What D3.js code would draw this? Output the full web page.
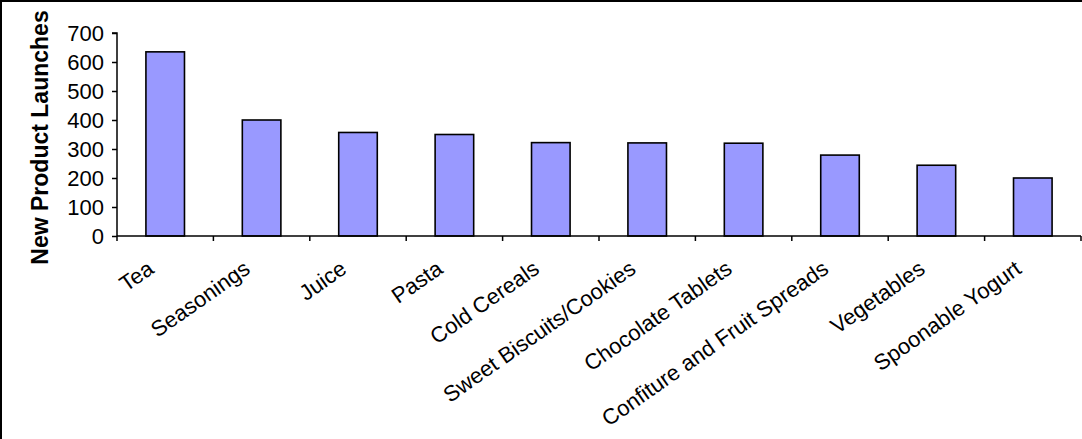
<!DOCTYPE html>
<html>
<head>
<meta charset="utf-8">
<script src="https://cdn.jsdelivr.net/npm/d3@7"></script>
<style>
  html, body { margin: 0; padding: 0; background: #fff; }
  svg { display: block; font-family: "Liberation Sans", Arial, sans-serif; }
</style>
</head>
<body>
<svg id="chart" width="1082" height="439"></svg>
<script>
// Product categories and number of new launches per category
const categories = ["Tea", "Seasonings", "Juice", "Pasta", "Cold Cereals",
  "Sweet Biscuits/Cookies", "Chocolate Tablets", "Confiture and Fruit Spreads",
  "Vegetables", "Spoonable Yogurt"];
const launches = [635, 400, 357, 350, 322, 321, 320, 279, 244, 200];
const yTicks = [0, 100, 200, 300, 400, 500, 600, 700];
const yTitle = "New Product Launches";

(function drawChart() {
  const svg = d3.select("#chart");

  // outer frame (extends past the visible area on right and bottom)
  svg.append("rect")
    .attr("x", 1).attr("y", 1)
    .attr("width", 1200).attr("height", 600)
    .attr("fill", "none").attr("stroke", "#000").attr("stroke-width", 2);

  const plotLeft = 117, plotRight = 1081, plotTop = 33, plotBottom = 236;

  const x = d3.scaleBand().domain(categories).range([plotLeft, plotRight]).paddingInner(0).paddingOuter(0);
  const y = d3.scaleLinear().domain([0, 700]).range([plotBottom, plotTop]);

  // bars: width is 40% of the category slot
  const barW = x.bandwidth() * 0.4;
  svg.append("g").selectAll("rect")
    .data(categories)
    .join("rect")
    .attr("x", (d) => x(d) + (x.bandwidth() - barW) / 2)
    .attr("y", (d, i) => y(launches[i]))
    .attr("width", barW)
    .attr("height", (d, i) => y(0) - y(launches[i]))
    .attr("fill", "#9999FF")
    .attr("stroke", "#000")
    .attr("stroke-width", 1.6);

  // y axis
  const yAxis = d3.axisLeft(y).tickValues(yTicks).tickSize(5).tickPadding(8);
  const gy = svg.append("g").attr("transform", `translate(${plotLeft},0)`).call(yAxis);
  gy.select(".domain").attr("stroke-width", 1.5).attr("d", `M-5,${plotTop}H0V${plotBottom}`);
  gy.selectAll(".tick line").attr("stroke-width", 1.5);
  gy.selectAll(".tick text")
    .attr("font-size", 22)
    .attr("fill", "#000")
    .attr("font-family", "Liberation Sans, Arial, sans-serif");

  // x axis: ticks sit at the boundaries between categories
  const gx = svg.append("g").attr("transform", `translate(0,${plotBottom})`);
  gx.append("line")
    .attr("x1", plotLeft).attr("x2", plotRight)
    .attr("stroke", "#000").attr("stroke-width", 1.5);
  const boundaries = categories.map((d) => x(d)).concat([plotRight]);
  gx.selectAll("line.tk")
    .data(boundaries)
    .join("line")
    .attr("class", "tk")
    .attr("x1", (d) => d).attr("x2", (d) => d)
    .attr("y1", 0).attr("y2", 5)
    .attr("stroke", "#000").attr("stroke-width", 1.5);

  // rotated category labels
  svg.append("g").selectAll("text")
    .data(categories)
    .join("text")
    .attr("transform", (d) => `translate(${x(d) + x.bandwidth() / 2 - 10},272) rotate(-35)`)
    .attr("text-anchor", "end")
    .attr("font-size", 22)
    .attr("fill", "#000")
    .text((d) => d);

  // y axis title
  svg.append("text")
    .attr("transform", `translate(48,${(plotTop + plotBottom) / 2 + 3}) rotate(-90)`)
    .attr("text-anchor", "middle")
    .attr("font-size", 23)
    .attr("font-weight", "bold")
    .attr("fill", "#000")
    .text(yTitle);
})();
</script>
</body>
</html>
